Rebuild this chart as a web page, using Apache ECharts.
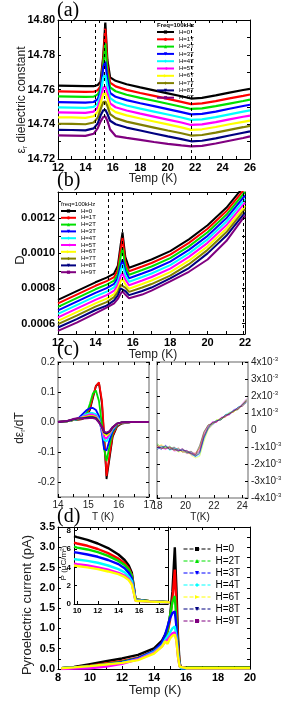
<!DOCTYPE html>
<html><head><meta charset="utf-8">
<script src="https://cdn.jsdelivr.net/npm/echarts@6/dist/echarts.min.js"></script>
<style>html,body{margin:0;padding:0;background:#fff}#c{width:291px;height:712px}</style>
</head><body><div id="c"></div>
<script>
const FONT = 'Liberation Sans, Arial, sans-serif';
const SERIF = 'Liberation Serif, Times New Roman, serif';

// ---------- shared series identity ----------
const names10 = ['H=0','H=1T','H=2T','H=3T','H=4T','H=5T','H=6T','H=7T','H=8T','H=9T'];
const colors10 = ['#000000','#ff0000','#00e000','#0000ff','#00ffff','#ff00ff','#ffff00','#808000','#000080','#800080'];
const symbols10 = ['rect','circle','triangle','triangle','diamond','triangle','triangle','diamond','triangle','rect'];
const symRot10 = [0,0,0,180,0,90,-90,0,180,0];

// ---------- panel (a): dielectric constant ----------
const aTemp = [12,13,14,14.6,14.9,15.1,15.3,15.45,15.6,15.8,16.2,17,18,19,20,21,21.7,22.5,23.5,24.5,25.5,26];
const aH0 = [14.7622,14.7621,14.7619,14.7619,14.7626,14.7645,14.7790,14.7985,14.7770,14.7670,14.7650,14.7630,14.7612,14.7595,14.7578,14.7561,14.7548,14.7552,14.7566,14.7582,14.7597,14.7604];
const aH1 = [14.7589,14.7588,14.7586,14.7587,14.7596,14.7620,14.7770,14.7950,14.7740,14.7640,14.7618,14.7598,14.7580,14.7563,14.7546,14.7529,14.7516,14.7520,14.7533,14.7549,14.7563,14.7571];
const aH2 = [14.7560,14.7559,14.7557,14.7559,14.7572,14.7600,14.7740,14.7866,14.7700,14.7612,14.7590,14.7570,14.7552,14.7535,14.7518,14.7501,14.7488,14.7491,14.7504,14.7519,14.7534,14.7542];
const aH3 = [14.7527,14.7526,14.7524,14.7528,14.7545,14.7590,14.7730,14.7760,14.7660,14.7580,14.7558,14.7539,14.7521,14.7504,14.7487,14.7470,14.7457,14.7460,14.7473,14.7489,14.7505,14.7512];
const aH4 = [14.7497,14.7496,14.7494,14.7500,14.7520,14.7570,14.7670,14.7684,14.7620,14.7550,14.7528,14.7508,14.7490,14.7473,14.7456,14.7439,14.7425,14.7428,14.7441,14.7457,14.7473,14.7480];
const aH5 = [14.7468,14.7467,14.7465,14.7473,14.7497,14.7545,14.7610,14.7617,14.7580,14.7520,14.7498,14.7479,14.7461,14.7444,14.7427,14.7410,14.7396,14.7399,14.7412,14.7428,14.7443,14.7450];
const aH6 = [14.7440,14.7439,14.7437,14.7446,14.7472,14.7520,14.7575,14.7579,14.7550,14.7492,14.7470,14.7451,14.7433,14.7416,14.7399,14.7382,14.7368,14.7371,14.7384,14.7400,14.7414,14.7421];
const aH7 = [14.7403,14.7402,14.7400,14.7410,14.7438,14.7485,14.7528,14.7531,14.7505,14.7458,14.7435,14.7415,14.7398,14.7381,14.7364,14.7348,14.7335,14.7338,14.7352,14.7368,14.7383,14.7391];
const aH8 = [14.7368,14.7367,14.7365,14.7376,14.7405,14.7450,14.7480,14.7483,14.7460,14.7420,14.7400,14.7381,14.7364,14.7347,14.7330,14.7314,14.7302,14.7305,14.7319,14.7335,14.7351,14.7359];
const aH9 = [14.7336,14.7335,14.7333,14.7345,14.7378,14.7415,14.7442,14.7445,14.7420,14.7370,14.7332,14.7322,14.7310,14.7298,14.7287,14.7278,14.7273,14.7276,14.7289,14.7305,14.7321,14.7330];
const aSeries = [aH0,aH1,aH2,aH3,aH4,aH5,aH6,aH7,aH8,aH9];
const aXLabels = [12,14,16,18,20,22,24,26];
const aXTicks = [12,13,14,15,16,17,18,19,20,21,22,23,24,25,26];
const aYLabels = [14.72,14.74,14.76,14.78,14.80];
const aYTicks = [14.72,14.73,14.74,14.75,14.76,14.77,14.78,14.79,14.80];
const aDashed = [14.7,15.4,21.7];

// ---------- panel (b): loss D ----------
const bTemp = [12,13,14,14.6,15.0,15.2,15.35,15.45,15.6,15.8,16.5,17,18,19,20,21,22];
const bH0 = [7.35e-4,7.85e-4,8.35e-4,8.62e-4,8.85e-4,9.30e-4,1.050e-3,1.120e-3,9.80e-4,9.18e-4,9.45e-4,9.65e-4,1.013e-3,1.080e-3,1.160e-3,1.260e-3,1.390e-3];
const bH1 = [7.15e-4,7.65e-4,8.15e-4,8.42e-4,8.65e-4,9.05e-4,1.020e-3,1.090e-3,9.55e-4,8.98e-4,9.25e-4,9.45e-4,9.93e-4,1.060e-3,1.140e-3,1.240e-3,1.370e-3];
const bH2 = [6.95e-4,7.45e-4,7.95e-4,8.22e-4,8.45e-4,8.80e-4,9.80e-4,1.030e-3,9.25e-4,8.78e-4,9.05e-4,9.25e-4,9.73e-4,1.040e-3,1.120e-3,1.220e-3,1.350e-3];
const bH3 = [6.75e-4,7.25e-4,7.75e-4,8.02e-4,8.26e-4,8.60e-4,9.30e-4,9.65e-4,9.00e-4,8.58e-4,8.85e-4,9.05e-4,9.53e-4,1.020e-3,1.100e-3,1.200e-3,1.330e-3];
const bH4 = [6.55e-4,7.05e-4,7.55e-4,7.82e-4,8.06e-4,8.40e-4,9.00e-4,9.37e-4,8.75e-4,8.38e-4,8.65e-4,8.85e-4,9.33e-4,1.000e-3,1.080e-3,1.180e-3,1.310e-3];
const bH5 = [6.35e-4,6.85e-4,7.35e-4,7.62e-4,7.87e-4,8.20e-4,8.70e-4,8.88e-4,8.50e-4,8.18e-4,8.45e-4,8.65e-4,9.13e-4,9.80e-4,1.060e-3,1.160e-3,1.290e-3];
const bH6 = [6.15e-4,6.65e-4,7.15e-4,7.42e-4,7.68e-4,8.00e-4,8.42e-4,8.55e-4,8.25e-4,7.98e-4,8.25e-4,8.45e-4,8.93e-4,9.58e-4,1.040e-3,1.140e-3,1.270e-3];
const bH7 = [5.96e-4,6.45e-4,6.96e-4,7.22e-4,7.50e-4,7.80e-4,8.20e-4,8.30e-4,8.05e-4,7.80e-4,8.05e-4,8.25e-4,8.73e-4,9.38e-4,1.020e-3,1.120e-3,1.252e-3];
const bH8 = [5.77e-4,6.25e-4,6.77e-4,7.02e-4,7.32e-4,7.60e-4,8.00e-4,8.10e-4,7.85e-4,7.62e-4,7.85e-4,8.05e-4,8.57e-4,9.16e-4,1.000e-3,1.100e-3,1.233e-3];
const bH9 = [5.58e-4,6.05e-4,6.58e-4,6.90e-4,7.15e-4,7.40e-4,7.70e-4,7.83e-4,7.65e-4,7.44e-4,7.65e-4,7.87e-4,8.40e-4,8.95e-4,9.65e-4,1.070e-3,1.215e-3];
const bSeries = [bH0,bH1,bH2,bH3,bH4,bH5,bH6,bH7,bH8,bH9];
const bXLabels = [12,14,16,18,20,22];
const bXTicks = [12,13,14,15,16,17,18,19,20,21,22];
const bYLabels = [0.0006,0.0008,0.0010,0.0012];
const bYTicks = [0.0006,0.0007,0.0008,0.0009,0.0010,0.0011,0.0012,0.0013];
const bDashed = [14.7,15.45,21.9];

// ---------- panel (c) left: d(eps)/dT ----------
const cTemp = [14,14.3,14.5,14.65,14.8,14.95,15.05,15.15,15.25,15.35,15.45,15.52,15.6,15.7,15.8,15.95,16.1,16.4,16.7,17];
const cH0 = [0,0.002,0.006,0.008,0.010,0.020,0.040,0.080,0.120,0.130,0.060,-0.050,-0.190,-0.120,-0.050,-0.015,-0.005,0,0,0];
const cH1 = [0,0.002,0.006,0.008,0.010,0.022,0.045,0.085,0.120,0.132,0.070,-0.040,-0.180,-0.110,-0.045,-0.012,-0.004,0,0,0];
const cH2 = [0,0.002,0.006,0.009,0.012,0.030,0.060,0.095,0.105,0.070,-0.010,-0.090,-0.130,-0.080,-0.035,-0.010,-0.003,0,0,0];
const cH3 = [0,0.003,0.007,0.010,0.025,0.040,0.046,0.047,0.040,0.020,-0.040,-0.090,-0.095,-0.060,-0.030,-0.008,-0.002,0,0,0];
const cH4 = [0,0.003,0.007,0.010,0.018,0.026,0.030,0.030,0.026,0.010,-0.030,-0.060,-0.065,-0.045,-0.025,-0.007,-0.002,0,0,0];
const cH5 = [0,0.003,0.008,0.011,0.016,0.022,0.025,0.025,0.020,0.005,-0.025,-0.050,-0.055,-0.040,-0.022,-0.006,-0.002,0,0,0];
const cH6 = [0,0.003,0.008,0.011,0.015,0.018,0.020,0.020,0.016,0.003,-0.020,-0.040,-0.045,-0.036,-0.020,-0.006,-0.002,0,0,0];
const cH7 = [0,0.003,0.008,0.011,0.013,0.016,0.018,0.018,0.014,0.002,-0.018,-0.036,-0.040,-0.033,-0.019,-0.005,-0.001,0,0,0];
const cH8 = [0,0.003,0.009,0.012,0.012,0.014,0.015,0.015,0.012,0.000,-0.017,-0.034,-0.038,-0.032,-0.018,-0.005,-0.001,0,0,0];
const cH9 = [0,0.004,0.010,0.013,0.011,0.012,0.013,0.013,0.010,-0.002,-0.016,-0.032,-0.035,-0.030,-0.017,-0.005,-0.001,0,0,0];
const cSeries = [cH0,cH1,cH2,cH3,cH4,cH5,cH6,cH7,cH8,cH9];
const cXLabels = [14,15,16,17];
const cXTicks = [14,14.5,15,15.5,16,16.5,17];
const cYLabels = [-0.2,-0.1,0.0,0.1,0.2];
const cYTicks = [-0.25,-0.2,-0.15,-0.1,-0.05,0,0.05,0.1,0.15,0.2];

// ---------- panel (c) right: d(eps)/dT in units of 1e-3 ----------
const crTemp = [18.0,18.3,18.6,18.9,19.2,19.5,19.8,20.1,20.4,20.7,21.0,21.3,21.6,21.9,22.2,22.5,22.8,23.1,23.4,23.7,24.0,24.3];
const crH0 = [-0.90,-1.10,-0.95,-1.15,-1.00,-1.20,-1.10,-1.30,-1.25,-1.45,-0.90,-0.10,0.30,0.35,0.55,0.60,0.85,0.90,1.15,1.20,1.50,1.75];
const crH1 = [-1.05,-0.90,-1.10,-1.00,-1.20,-1.05,-1.30,-1.20,-1.40,-1.35,-1.10,-0.30,0.15,0.45,0.45,0.70,0.75,1.00,1.05,1.30,1.40,1.65];
const crH2 = [-0.80,-1.00,-1.05,-0.95,-1.15,-1.25,-1.15,-1.35,-1.30,-1.50,-1.30,-0.40,0.10,0.35,0.60,0.60,0.80,1.00,1.10,1.25,1.50,1.80];
const crH3 = [-1.00,-1.15,-0.90,-1.10,-1.05,-1.15,-1.25,-1.20,-1.45,-1.55,-1.40,-0.50,0.05,0.30,0.50,0.70,0.85,0.95,1.20,1.30,1.45,1.70];
const crH4 = [-1.10,-0.95,-1.00,-1.20,-1.10,-1.10,-1.20,-1.30,-1.35,-1.60,-1.50,-0.60,0.20,0.40,0.55,0.65,0.90,1.05,1.10,1.35,1.50,1.60];
const crH5 = [-0.95,-1.05,-1.15,-1.00,-1.25,-1.20,-1.10,-1.40,-1.30,-1.45,-1.20,-0.20,0.25,0.50,0.45,0.75,0.80,0.90,1.15,1.25,1.55,1.85];
const crH6 = [-1.00,-0.85,-1.00,-1.10,-1.05,-1.30,-1.25,-1.25,-1.50,-1.65,-1.55,-0.70,0.00,0.35,0.60,0.65,0.85,1.00,1.05,1.30,1.45,1.70];
const crH7 = [-0.85,-1.10,-1.05,-1.05,-1.20,-1.10,-1.30,-1.35,-1.40,-1.50,-1.00,-0.15,0.30,0.40,0.50,0.70,0.80,1.00,1.15,1.20,1.50,1.75];
const crH8 = [-1.15,-1.00,-0.95,-1.15,-1.10,-1.25,-1.15,-1.30,-1.35,-1.55,-1.35,-0.45,0.10,0.45,0.55,0.60,0.90,0.95,1.10,1.35,1.40,1.65];
const crH9 = [-1.00,-1.05,-1.10,-1.00,-1.15,-1.20,-1.20,-1.25,-1.40,-1.45,-1.25,-0.35,0.20,0.40,0.50,0.70,0.80,0.95,1.15,1.25,1.50,1.70];
const crSeries = [crH0,crH1,crH2,crH3,crH4,crH5,crH6,crH7,crH8,crH9];
const crXLabels = [18,20,22,24];
const crXTicks = [18,19,20,21,22,23,24];
const crYLabels = [-4,-3,-2,-1,0,1,2,3,4];

// ---------- panel (d): pyroelectric current ----------
const dNames = ['H=0','H=2T','H=3T','H=4T','H=6T','H=8T','H=9T'];
const dColors = ['#000000','#ff0000','#00e000','#0000ff','#00ffff','#ff00ff','#ffff00'];
const dSymbols = ['rect','circle','triangle','triangle','diamond','triangle','triangle'];
const dSymRot = [0,0,0,180,0,90,-90];
const dTemp = [8.2,9,10,11,12,13,14,14.5,14.7,14.85,15.0,15.15,15.3,15.4,15.5,15.6,15.7,16,18,20];
const dH0 = [0.02,0.05,0.12,0.19,0.26,0.35,0.51,0.70,0.85,1.00,1.30,1.90,3.00,2.00,0.80,0.15,0.03,0.03,0.03,0.03];
const dH2 = [0.02,0.04,0.08,0.14,0.20,0.28,0.45,0.62,0.78,0.90,1.20,1.70,2.45,1.60,0.60,0.12,0.03,0.03,0.03,0.03];
const dH3 = [0.02,0.04,0.07,0.12,0.18,0.27,0.45,0.62,0.80,0.95,1.30,1.65,1.80,1.20,0.50,0.10,0.03,0.03,0.03,0.03];
const dH4 = [0.02,0.04,0.07,0.11,0.17,0.26,0.45,0.65,0.85,1.05,1.25,1.38,1.42,1.05,0.40,0.08,0.02,0.02,0.02,0.02];
const dH6 = [0.02,0.03,0.06,0.10,0.15,0.24,0.42,0.58,0.72,0.80,0.90,1.00,1.05,0.80,0.35,0.07,0.02,0.02,0.02,0.02];
const dH8 = [0.00,0.01,0.02,0.06,0.13,0.24,0.40,0.56,0.68,0.72,0.80,0.88,0.90,0.72,0.30,0.06,0.02,0.02,0.02,0.02];
const dH9 = [0.02,0.04,0.07,0.11,0.15,0.22,0.38,0.55,0.68,0.62,0.75,0.82,0.85,0.70,0.30,0.06,0.02,0.02,0.02,0.02];
const dSeries = [dH0,dH2,dH3,dH4,dH6,dH8,dH9];
const dXLabels = [8,10,12,14,16,18,20];
const dXTicks = [8,9,10,11,12,13,14,15,16,17,18,19,20];
const dYLabels = [0,0.5,1.0,1.5,2.0,2.5,3.0,3.5];
const dYTicks = [0,0.25,0.5,0.75,1.0,1.25,1.5,1.75,2.0,2.25,2.5,2.75,3.0,3.25,3.5];

// ---------- panel (d) inset: polarization ----------
const pTemp = [9.7,10,11,12,13,14,14.6,15.0,15.3,15.5,15.65,15.8,17,19];
const pH0 = [7.40,7.30,7.00,6.60,6.10,5.40,4.80,4.20,3.40,1.80,0.50,0.35,0.30,0.20];
const pH2 = [6.70,6.60,6.35,6.00,5.55,4.95,4.45,3.90,3.20,1.70,0.50,0.35,0.30,0.20];
const pH3 = [6.25,6.15,5.95,5.65,5.25,4.70,4.25,3.75,3.10,1.60,0.50,0.35,0.30,0.20];
const pH4 = [5.65,5.60,5.40,5.15,4.80,4.35,3.90,3.40,2.80,1.50,0.45,0.30,0.28,0.18];
const pH6 = [4.90,4.85,4.70,4.50,4.20,3.80,3.45,3.00,2.50,1.40,0.40,0.30,0.28,0.18];
const pH8 = [4.40,4.35,4.20,4.00,3.75,3.40,3.10,2.70,2.20,1.20,0.35,0.30,0.28,0.18];
const pH9 = [4.20,4.15,4.00,3.80,3.55,3.25,2.95,2.60,2.10,1.15,0.35,0.30,0.28,0.18];
const pSeries = [pH0,pH2,pH3,pH4,pH6,pH8,pH9];
const pXLabels = [10,12,14,16,18];
const pYLabels = [0,2,4,6,8];

// ================= layout / build =================
const grids = [
  {left:58, top:20,  width:192, height:139},  // a
  {left:58, top:192, width:187, height:142},  // b
  {left:58, top:362, width:91,  height:135},  // c left
  {left:157,top:362, width:91,  height:136},  // c right
  {left:58, top:527, width:192, height:142},  // d
  {left:74, top:527, width:94,  height:77}    // d inset
];
const pairs = (xs, ys) => xs.map((x, i) => [x, ys[i]]);

function mkAxis(g, min, max, labels, ticks, pos, lab, lineColor, lineW) {
  return {
    type:'value', gridIndex:g, min:min, max:max, position:pos,
    axisLine:{show:true, onZero:false, lineStyle:{color:lineColor||'#000', width:lineW||1}},
    axisTick:{show:true, inside:true, length:3, customValues:ticks, lineStyle:{color:'#000', width:1}},
    axisLabel:Object.assign({show:!!lab, customValues:labels, color:'#000', fontFamily:FONT, margin:3}, lab||{}),
    splitLine:{show:false}
  };
}
const xAxes = [], yAxes = [];
function addGrid(g, xr, yr, xl, xt, yl, yt, xLab, yLab, yPos, lc, lw) {
  xAxes.push(mkAxis(g, xr[0], xr[1], xl, xt, 'bottom', xLab, lc, lw));
  xAxes.push(mkAxis(g, xr[0], xr[1], xl, xt, 'top', null, lc, lw));
  const p2 = yPos === 'right' ? 'left' : 'right';
  yAxes.push(mkAxis(g, yr[0], yr[1], yl, yt, yPos || 'left', yLab, lc, lw));
  yAxes.push(mkAxis(g, yr[0], yr[1], yl, yt, p2, null, lc, lw));
}
const boldLab = {fontSize:11, fontWeight:'bold'};
addGrid(0,[12,26],[14.72,14.80],aXLabels,aXTicks,aYLabels,aYTicks,boldLab,
  Object.assign({formatter:v=>v.toFixed(2)},boldLab));
addGrid(1,[12,22],[0.00054,0.00135],bXLabels,bXTicks,bYLabels,bYTicks,boldLab,
  Object.assign({formatter:v=>v.toFixed(4)},boldLab));
addGrid(2,[14,17],[-0.25,0.2],cXLabels,cXTicks,cYLabels,cYTicks,{fontSize:10,color:'#222'},
  {fontSize:10,color:'#222',formatter:v=>v.toFixed(1)},'left','#999',1.5);
addGrid(3,[18,24.4],[-4,4],crXLabels,crXTicks,crYLabels,crYLabels,{fontSize:10,color:'#222'},
  {fontSize:10,color:'#222',formatter:v=>v===0?'0':'{n|'+v+'x10}{s|-3}',
   rich:{n:{fontSize:10,color:'#222',fontFamily:FONT},s:{fontSize:6,color:'#222',fontFamily:FONT,padding:[0,0,6,0]}}},'right','#999',1.5);
addGrid(4,[8,20],[0,3.5],dXLabels,dXTicks,dYLabels,dYTicks,boldLab,
  Object.assign({formatter:v=>v.toFixed(1)},boldLab));
addGrid(5,[9.7,18.8],[0,8.4],pXLabels,pXLabels,pYLabels,pYLabels,{fontSize:8,fontWeight:'bold'},
  {fontSize:8,fontWeight:'bold'});

const series = [];
function addLine(g, name, color, sym, rot, xs, ys, extra) {
  series.push(Object.assign({
    type:'line', name:name, xAxisIndex:2*g, yAxisIndex:2*g,
    data:pairs(xs, ys), showSymbol:false, symbol:sym, symbolRotate:rot, symbolSize:4,
    lineStyle:{color:color, width:2.2}, itemStyle:{color:color},
    animation:false, silent:true, z:3
  }, extra||{}));
}
const dashLine = vals => ({silent:true, symbol:'none', label:{show:false},
  lineStyle:{type:[3,3], color:'#000', width:1}, data:vals.map(v => ({xAxis:v}))});
aSeries.forEach((ys,i)=>addLine(0,names10[i],colors10[i],symbols10[i],symRot10[i],aTemp,ys,
  i===0?{markLine:dashLine(aDashed)}:null));
bSeries.forEach((ys,i)=>addLine(1,names10[i],colors10[i],symbols10[i],symRot10[i],bTemp,ys,
  Object.assign({lineStyle:{color:colors10[i],width:2}}, i===0?{markLine:dashLine(bDashed)}:{})));
cSeries.forEach((ys,i)=>addLine(2,names10[i],colors10[i],symbols10[i],symRot10[i],cTemp,ys,
  {lineStyle:{color:colors10[i],width:1.8}}));
crSeries.forEach((ys,i)=>addLine(3,names10[i],colors10[i],symbols10[i],symRot10[i],crTemp,ys,
  {lineStyle:{color:colors10[i],width:0.8,opacity:0.55}}));
dSeries.forEach((ys,i)=>addLine(4,dNames[i],dColors[i],dSymbols[i],dSymRot[i],dTemp,ys,
  {lineStyle:{color:dColors[i],width:2.4}}));
pSeries.forEach((ys,i)=>addLine(5,dNames[i],dColors[i],dSymbols[i],dSymRot[i],pTemp,ys,
  {lineStyle:{color:dColors[i],width:2.4}, z:6}));

const txt = (x, y, text, opt) => ({type:'text', x:x, y:y, z:100,
  style:Object.assign({text:text, fill:'#222', font:'12px ' + FONT}, opt||{})});
const vtxt = (x, y, text, opt) => ({type:'text', x:x, y:y, rotation:Math.PI/2, z:100,
  style:Object.assign({text:text, fill:'#222', font:'12px ' + FONT, align:'center', verticalAlign:'middle'}, opt||{})});
const graphics = [
  txt(57, 1, '(a)', {font:'20px ' + SERIF, fill:'#000'}),
  txt(57, 171, '(b)', {font:'20px ' + SERIF, fill:'#000'}),
  txt(57, 340, '(c)', {font:'20px ' + SERIF, fill:'#000'}),
  txt(57, 507, '(d)', {font:'20px ' + SERIF, fill:'#000'}),
  txt(153, 179, 'Temp (K)', {align:'center', verticalAlign:'middle'}),
  txt(153, 355, 'Temp (K)', {align:'center', verticalAlign:'middle'}),
  txt(103, 517, 'T (K)', {align:'center', verticalAlign:'middle', font:'10px ' + FONT}),
  txt(200, 517, 'T(K)', {align:'center', verticalAlign:'middle', font:'10px ' + FONT}),
  txt(155, 690, 'Temp (K)', {align:'center', verticalAlign:'middle', font:'13px ' + FONT}),
  vtxt(22, 100, '{e|ε}{s|r}{n| dielectric constant}', {rich:{
    e:{fontSize:12,fontFamily:FONT,fill:'#222'}, s:{fontSize:7,fontFamily:FONT,fill:'#222',padding:[6,0,0,0]},
    n:{fontSize:12,fontFamily:FONT,fill:'#222'}}}),
  vtxt(20, 260, 'D', {font:'13px ' + FONT}),
  vtxt(20, 428, '{n|dε}{s|r}{n|/dT}', {rich:{
    n:{fontSize:12,fontFamily:FONT,fill:'#222'}, s:{fontSize:7,fontFamily:FONT,fill:'#222',padding:[6,0,0,0]}}}),
  vtxt(27, 605, 'Pyroelectric current (pA)', {font:'13px ' + FONT}),
  vtxt(64, 563, 'P (μC/m²)', {font:'8px ' + FONT}),
  txt(157, 22, 'Freq=100kHz', {font:'bold 6px ' + FONT, fill:'#000'}),
  txt(61, 201, 'freq=100kHz', {font:'6px ' + FONT, fill:'#000'})
];

const legendBase = {orient:'vertical', selectedMode:false, padding:0,
  textStyle:{fontFamily:FONT, color:'#000'}};
const option = {
  backgroundColor:'#fff', animation:false,
  grid:grids.map((g,i)=>Object.assign({containLabel:false, show:i===5, backgroundColor:'#fff', borderWidth:0}, g)),
  xAxis:xAxes, yAxis:yAxes, series:series, graphic:graphics,
  legend:[
    Object.assign({}, legendBase, {data:names10, left:156, top:29, itemWidth:17, itemHeight:4, itemGap:1.3,
      textStyle:{fontFamily:FONT, color:'#000', fontSize:6, lineHeight:5}}),
    Object.assign({}, legendBase, {data:names10, left:60, top:208, itemWidth:15, itemHeight:4, itemGap:0.8,
      textStyle:{fontFamily:FONT, color:'#000', fontSize:6, lineHeight:5}}),
    Object.assign({}, legendBase, {data:dNames, left:183, top:544, itemWidth:27, itemHeight:5, itemGap:2,
      lineStyle:{type:'dashed', width:1},
      textStyle:{fontFamily:FONT, color:'#000', fontSize:10, lineHeight:8}})
  ]
};
const chart = echarts.init(document.getElementById('c'), null, {renderer:'canvas'});
chart.setOption(option);
</script></body></html>
